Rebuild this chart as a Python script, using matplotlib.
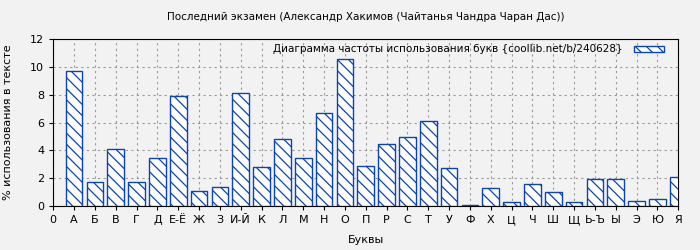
import matplotlib.pyplot as plt
import numpy as np

plt.rcParams['hatch.linewidth'] = 0.9

letters = ['А', 'Б', 'В', 'Г', 'Д', 'Е-Ё', 'Ж', 'З', 'И-Й', 'К', 'Л', 'М', 'Н', 'О', 'П',
           'Р', 'С', 'Т', 'У', 'Ф', 'Х', 'Ц', 'Ч', 'Ш', 'Щ', 'Ь-Ъ', 'Ы', 'Э', 'Ю', 'Я']
freq = [9.7, 1.7, 4.1, 1.7, 3.45, 7.9, 1.06, 1.34, 8.1, 2.8, 4.8, 3.45, 6.68, 10.55, 2.87,
        4.45, 4.97, 6.1, 2.73, 0.07, 1.3, 0.29, 1.58, 1.0, 0.29, 1.95, 1.95, 0.36, 0.5, 2.09]

title = "Последний экзамен (Александр Хакимов (Чайтанья Чандра Чаран Дас))"
legend_label = "Диаграмма частоты использования букв {coollib.net/b/240628}"

blue = '#0b45b0'
bg = '#f2f2f2'

fig = plt.figure(figsize=(7, 2.5), dpi=100, facecolor=bg)
ax = fig.add_axes([0.076, 0.176, 0.893, 0.667])
ax.set_facecolor(bg)

x = np.arange(1, len(letters) + 1)
plt.rcParams['hatch.color'] = blue
ax.bar(x, freq, width=0.8, color='white', edgecolor=blue, hatch='\\\\\\',
       linewidth=1.0, label=legend_label, zorder=3)

ax.set_xlim(0, 30)
ax.set_ylim(0, 12)
ax.set_xticks(np.arange(0, 31))
ax.set_xticklabels(['0'] + letters, fontsize=8)
ax.set_yticks(np.arange(0, 13, 2))
ax.tick_params(axis='y', labelsize=8, length=3)
ax.tick_params(axis='x', length=3)
ax.grid(True, color='#999999', linestyle=(0, (2, 3)), linewidth=0.8, zorder=0)

ax.set_title(title, fontsize=7.5, pad=14)
ax.set_xlabel("Буквы", fontsize=8, labelpad=7)
ax.set_ylabel("% использования в тексте", fontsize=8, labelpad=12)

leg = ax.legend(loc='upper right', frameon=False, fontsize=7.5, markerfirst=False,
                handlelength=2.9, handleheight=0.55, handletextpad=1.0,
                borderaxespad=0.2, borderpad=0.3, bbox_to_anchor=(0.985, 1.0))

fig.savefig('out.png', dpi=100, facecolor=bg)
